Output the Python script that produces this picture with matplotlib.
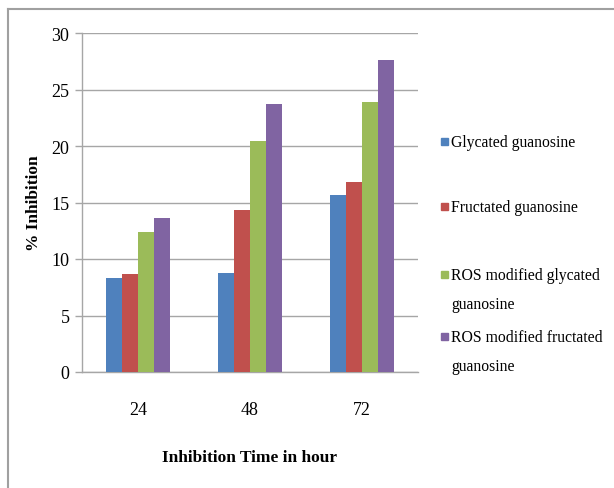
import matplotlib
matplotlib.use("Agg")
import matplotlib.pyplot as plt
import numpy as np
from matplotlib.lines import Line2D
from matplotlib.patches import Rectangle

categories = ["24", "48", "72"]
series_names = ["Glycated guanosine", "Fructated guanosine",
                "ROS modified glycated\nguanosine", "ROS modified fructated\nguanosine"]
glycated = [8.3, 8.8, 15.7]
fructated = [8.7, 14.3, 16.8]
ros_glycated = [12.4, 20.4, 23.9]
ros_fructated = [13.6, 23.7, 27.6]
yticks = [0, 5, 10, 15, 20, 25, 30]

colors = ["#4F81BD", "#C0504D", "#9BBB59", "#8064A2"]
series = [glycated, fructated, ros_glycated, ros_fructated]

plt.rcParams['font.family'] = ['Liberation Serif', 'DejaVu Serif']

W, H = 614, 489
fig = plt.figure(figsize=(W/100, H/100), dpi=100)
ax = fig.add_axes([82/W, 1-373/H, (418-82)/W, (373-34)/H])

x = np.arange(len(categories))
bw = 0.143
for i, (vals, c) in enumerate(zip(series, colors)):
    ax.bar(x + (i - 1.5) * bw, vals, width=bw, color=c, edgecolor='none', zorder=3)

ax.set_xlim(-0.5, 2.5)
ax.set_ylim(0, 30)
ax.set_yticks(yticks)
ax.set_yticklabels([str(t) for t in yticks], fontsize=13)
ax.set_xticks(x)
ax.set_xticklabels(categories, fontsize=13)
ax.tick_params(axis='y', length=5, width=1, color='#a6a6a6', pad=4)
ax.tick_params(axis='x', length=0, pad=21)
ax.grid(axis='y', color='#a6a6a6', linewidth=1, zorder=0)
for s in ['top', 'right']:
    ax.spines[s].set_visible(False)
for s in ['left', 'bottom']:
    ax.spines[s].set_color('#a6a6a6')
    ax.spines[s].set_linewidth(1)

fig.text(250/W, 1-458/H, "Inhibition Time in hour", fontsize=12.5, fontweight='bold',
         ha='center', va='center')
fig.text(34/W, 1-203/H, "% Inhibition", fontsize=12.5, fontweight='bold',
         ha='center', va='center', rotation=90)

# legend
leg_y = [142, 207, 275, 337]
for name, c, yy in zip(series_names, colors, leg_y):
    fig.patches.append(Rectangle((441/W, 1-(yy+3.5)/H), 7/W, 7/H, color=c,
                                 transform=fig.transFigure, figure=fig))
    fig.text(451/W, 1-(yy-7)/H, name, fontsize=11.3, ha='left', va='top',
             linespacing=2.1)

# outer frame
fig.add_artist(Line2D([8/W, 1], [1-10/H, 1-10/H], color='#a0a0a0', lw=1.5,
                      transform=fig.transFigure))
fig.add_artist(Line2D([8/W, 8/W], [0, 1-10/H], color='#a0a0a0', lw=1.5,
                      transform=fig.transFigure))

fig.savefig("out.png", dpi=100)
